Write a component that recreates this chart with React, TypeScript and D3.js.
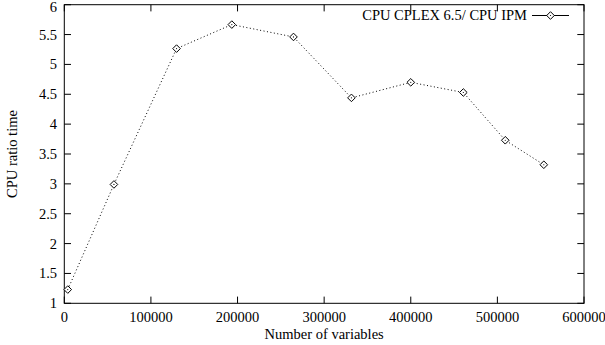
import React from "react";
import * as d3 from "d3";

const variables = [4000, 57300, 129600, 193400, 264600, 331500, 400000, 460700, 509100, 553600];
const ratios = [1.23, 2.99, 5.265, 5.667, 5.46, 4.44, 4.70, 4.53, 3.73, 3.32];
const xTicks = [0, 100000, 200000, 300000, 400000, 500000, 600000];
const yTicks = [1, 1.5, 2, 2.5, 3, 3.5, 4, 4.5, 5, 5.5, 6];
const seriesLabel = "CPU CPLEX 6.5/ CPU IPM";
const xTitle = "Number of variables";
const yTitle = "CPU ratio time";

const W = 605, H = 345;
const L = 64.3, R = 584, T = 4.7, B = 303.3;
const FONT = "'Liberation Serif', 'DejaVu Serif', serif";

function Diamond({ x, y }: { x: number; y: number }) {
  const s = 3.8;
  return (
    <g>
      <path d={`M${x},${y - s}L${x + s},${y}L${x},${y + s}L${x - s},${y}Z`} fill="white" stroke="black" strokeWidth={1} />
      <circle cx={x} cy={y} r={0.6} fill="black" />
    </g>
  );
}

export default function App() {
  const x = d3.scaleLinear().domain([0, 600000]).range([L, R]);
  const y = d3.scaleLinear().domain([1, 6]).range([B, T]);
  const pts = variables.map((v, i) => [x(v), y(ratios[i])] as [number, number]);
  const line = d3.line()(pts) || "";
  const tick = 6.7;
  const fs = 14.5;
  return (
    <svg width={W} height={H} style={{ position: "absolute", left: 0, top: 0, background: "white" }} fontFamily={FONT}>
      <rect x={0} y={0} width={W} height={H} fill="white" />
      {xTicks.map((t) => (
        <g key={"x" + t}>
          <line x1={x(t)} x2={x(t)} y1={B} y2={B - tick} stroke="black" />
          <line x1={x(t)} x2={x(t)} y1={T} y2={T + tick} stroke="black" />
          <text x={x(t)} y={322} textAnchor="middle" fontSize={fs} fill="black">{t}</text>
        </g>
      ))}
      {yTicks.map((t) => (
        <g key={"y" + t}>
          <line x1={L} x2={L + tick} y1={y(t)} y2={y(t)} stroke="black" />
          <line x1={R} x2={R - tick} y1={y(t)} y2={y(t)} stroke="black" />
          <text x={57} y={Math.max(y(t) + 5, 11.5)} textAnchor="end" fontSize={fs} fill="black">{t}</text>
        </g>
      ))}
      <rect x={L} y={T} width={R - L} height={B - T} fill="none" stroke="black" strokeWidth={1} />
      <path d={line} fill="none" stroke="black" strokeWidth={1} strokeDasharray="1,2.5" />
      {pts.map((p, i) => <Diamond key={i} x={p[0]} y={p[1]} />)}
      <text x={527} y={20} textAnchor="end" fontSize={fs} fill="black">{seriesLabel}</text>
      <line x1={532} x2={569} y1={15.5} y2={15.5} stroke="black" />
      <Diamond x={550.5} y={15.5} />
      <text x={(L + R) / 2} y={339} textAnchor="middle" fontSize={fs} fill="black">{xTitle}</text>
      <text transform={`translate(17,${(T + B) / 2}) rotate(-90)`} textAnchor="middle" fontSize={fs} fill="black">{yTitle}</text>
    </svg>
  );
}
